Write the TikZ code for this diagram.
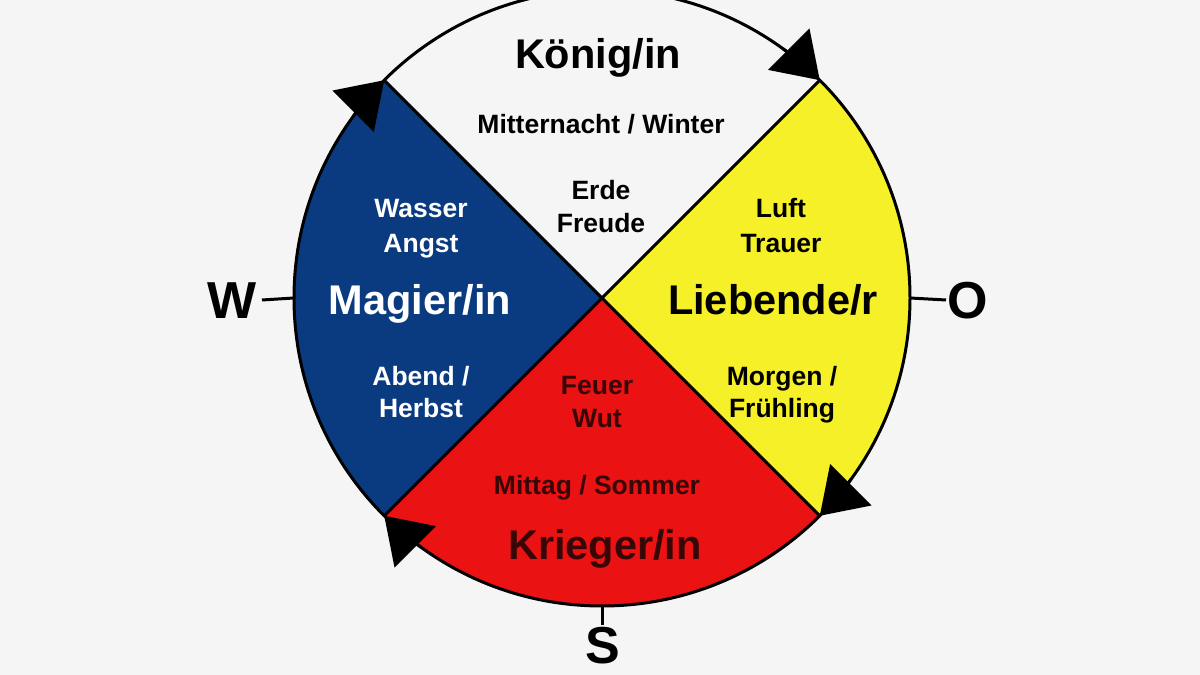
\documentclass[tikz,border=0pt]{standalone}
\usepackage{fontspec}
\setmainfont{Liberation Sans}
\usetikzlibrary{arrows.meta, calc}

\definecolor{bggray}{RGB}{245,245,245}
\definecolor{wheelblue}{RGB}{10,58,128}
\definecolor{wheelyellow}{RGB}{246,240,40}
\definecolor{wheelred}{RGB}{234,18,18}
\definecolor{darktext}{RGB}{55,6,6}

\tikzset{
  smalltext/.style={font=\bfseries\fontsize{26.5}{33}\selectfont, anchor=base, inner sep=0pt},
  bigtext/.style={font=\bfseries\fontsize{41.5}{50}\selectfont, anchor=base, inner sep=0pt},
  compass/.style={font=\bfseries\fontsize{52}{60}\selectfont, anchor=base, inner sep=0pt},
  turn/.style={line width=3pt, -{Triangle[length=44pt,width=58pt]}},
}

\begin{document}
\begin{tikzpicture}[x=1pt,y=1pt]
                \fill[bggray] (0,0) rectangle (1200,675);
                \clip (0,0) rectangle (1200,675);
                \coordinate (c) at (602,377);
                % sectors
                \fill[wheelblue] (c) -- ++(135:308) arc[start angle=135,end angle=225,radius=308] -- cycle;
                \fill[wheelred] (c) -- ++(225:308) arc[start angle=225,end angle=315,radius=308] -- cycle;
                \fill[wheelyellow] (c) -- ++(315:308) arc[start angle=-45,end angle=45,radius=308] -- cycle;
                \draw[line width=3pt] (c) circle[radius=308];
                \foreach \a in {45,135,225,315}
                    \draw[line width=3pt] (c) -- ++(\a:308);
                % arrows on the rim
                \foreach \a in {45,135,225,315}
                    \draw[turn] ($(c)+(\a+9:308)$) arc[start angle=\a+9,end angle=\a,radius=308];
                % compass
                \coordinate (west) at (262,375);
                \coordinate (east) at (946,375);
                \coordinate (south) at (602,50);
                \draw[line width=3pt] (c) ++(180:308) -- (west);
                \draw[line width=3pt] (c) ++(0:308) -- (east);
                \draw[line width=3pt] (c) ++(270:308) -- (south);
                \node[compass] (w) at (232,356) {W};
                \node[compass] (o) at (968,356) {O};
                \node[compass] (s) at (603,11) {S};
                % top
                \node[bigtext] (koenig) at (598,606) {König/in};
                \node[smalltext] (mitternacht) at (601,541) {Mitternacht / Winter};
                \node[smalltext] (erde) at (601,475) {Erde};
                \node[smalltext] (freude) at (601,442) {Freude};
                % left
                \node[smalltext, white] (wasser) at (421,457) {Wasser};
                \node[smalltext, white] (angst) at (421,422) {Angst};
                \node[bigtext, white] (magier) at (420,360) {Magier/in};
                \node[smalltext, white] (abend) at (421,289) {Abend /};
                \node[smalltext, white] (herbst) at (421,257) {Herbst};
                % right
                \node[smalltext] (luft) at (781,457) {Luft};
                \node[smalltext] (trauer) at (781,422) {Trauer};
                \node[bigtext] (liebende) at (773,360) {Liebende/r};
                \node[smalltext] (morgen) at (782,289) {Morgen /};
                \node[smalltext] (fruehling) at (782,257) {Frühling};
                % bottom
                \node[smalltext, darktext] (feuer) at (597,280) {Feuer};
                \node[smalltext, darktext] (wut) at (597,247) {Wut};
                \node[smalltext, darktext] (mittag) at (597,180) {Mittag / Sommer};
                \node[bigtext, darktext] (krieger) at (605,115) {Krieger/in};
            \end{tikzpicture}
\end{document}
